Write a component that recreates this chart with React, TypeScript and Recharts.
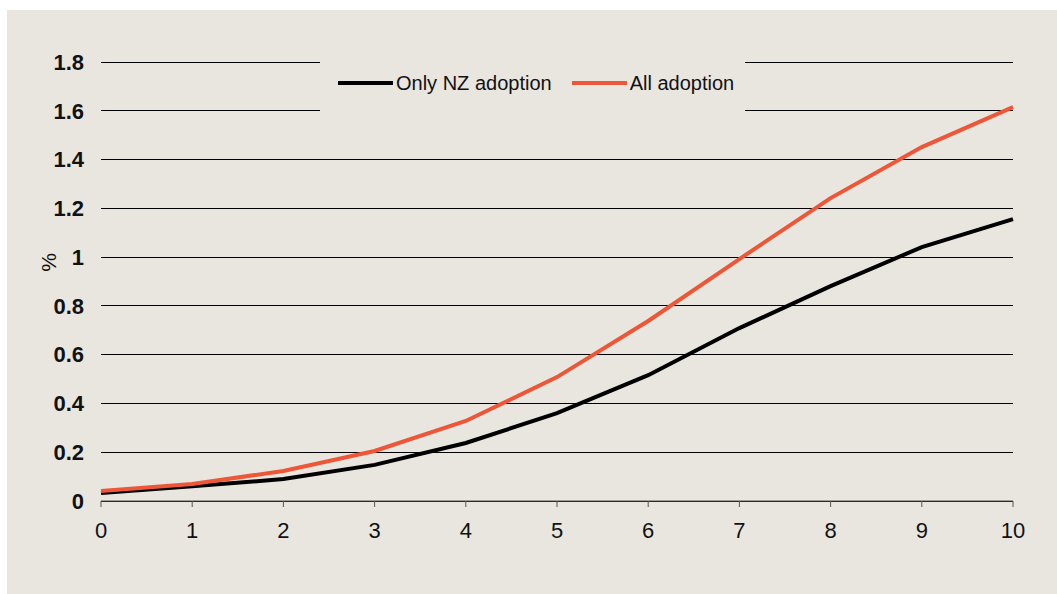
import React from 'react';
import { LineChart, Line, XAxis, YAxis, CartesianGrid, Legend } from 'recharts';

const years = [0, 1, 2, 3, 4, 5, 6, 7, 8, 9, 10];
const onlyNZ = [0.033, 0.06, 0.09, 0.148, 0.238, 0.36, 0.516, 0.709, 0.881, 1.041, 1.156];
const allAdoption = [0.041, 0.07, 0.123, 0.205, 0.328, 0.508, 0.738, 0.992, 1.242, 1.451, 1.615];
const yTicks = [0, 0.2, 0.4, 0.6, 0.8, 1, 1.2, 1.4, 1.6, 1.8];
const xTicks = [0, 1, 2, 3, 4, 5, 6, 7, 8, 9, 10];
const seriesNames = ['Only NZ adoption', 'All adoption'];
const seriesColors = ['#000000', '#ee5638'];

const data = years.map((x, i) => ({ x, nz: onlyNZ[i], all: allAdoption[i] }));

const BG = '#e9e6e0';
const FONT = '"Liberation Sans", Arial, sans-serif';

const LegendContent = () => (
  <div
    style={{
      background: BG,
      width: '100%',
      height: '100%',
      display: 'flex',
      alignItems: 'center',
      fontFamily: FONT,
      fontSize: 20,
      color: '#111',
    }}
  >
    {seriesNames.map((n, i) => (
      <div key={n} style={{ display: 'flex', alignItems: 'center', marginLeft: i === 0 ? 18 : 20 }}>
        <div style={{ width: 55, height: 4, background: seriesColors[i], marginRight: 3 }} />
        <span>{n}</span>
      </div>
    ))}
  </div>
);

const PercentLabel = (props: any) => {
  const vb = props.viewBox || { x: 0, y: 0, width: 0, height: 0 };
  const cx = 41;
  const cy = vb.y + vb.height / 2 - 19;
  return (
    <text
      x={cx}
      y={cy}
      transform={`rotate(-90 ${cx} ${cy})`}
      textAnchor="middle"
      dominantBaseline="central"
      fill="#111"
      fontFamily={FONT}
      fontSize={21}
    >
      %
    </text>
  );
};

export default function App() {
  return (
    <div style={{ position: 'absolute', left: 7, top: 10, width: 1050, height: 584, background: BG }}>
      <LineChart
        width={1050}
        height={584}
        data={data}
        margin={{ top: 52, right: 44, bottom: 53, left: 0 }}
      >
        <CartesianGrid vertical={false} stroke="#000" strokeWidth={1} shapeRendering="crispEdges" />
        <XAxis
          dataKey="x"
          type="number"
          domain={[0, 10]}
          ticks={xTicks}
          height={40}
          axisLine={{ stroke: '#555' }}
          tickLine={{ stroke: '#555' }}
          tickSize={6}
          tickMargin={15}
          tick={{ fill: '#111', fontFamily: FONT, fontSize: 22 }}
        />
        <YAxis
          type="number"
          domain={[0, 1.8]}
          ticks={yTicks}
          width={94}
          axisLine={false}
          tickLine={false}
          tickSize={0}
          tickMargin={17}
          tickFormatter={(v: number) => String(v)}
          tick={{ fill: '#111', fontFamily: FONT, fontSize: 22, fontWeight: 'bold' }}
          label={<PercentLabel />}
        />
        <Legend
          verticalAlign="middle"
          align="center"
          content={<LegendContent />}
          wrapperStyle={{ position: 'absolute', left: 313, top: 40, width: 425, height: 66 }}
        />
        <Line dataKey="nz" name={seriesNames[0]} stroke={seriesColors[0]} strokeWidth={4} dot={false} isAnimationActive={false} />
        <Line dataKey="all" name={seriesNames[1]} stroke={seriesColors[1]} strokeWidth={4} dot={false} isAnimationActive={false} />
      </LineChart>
    </div>
  );
}
